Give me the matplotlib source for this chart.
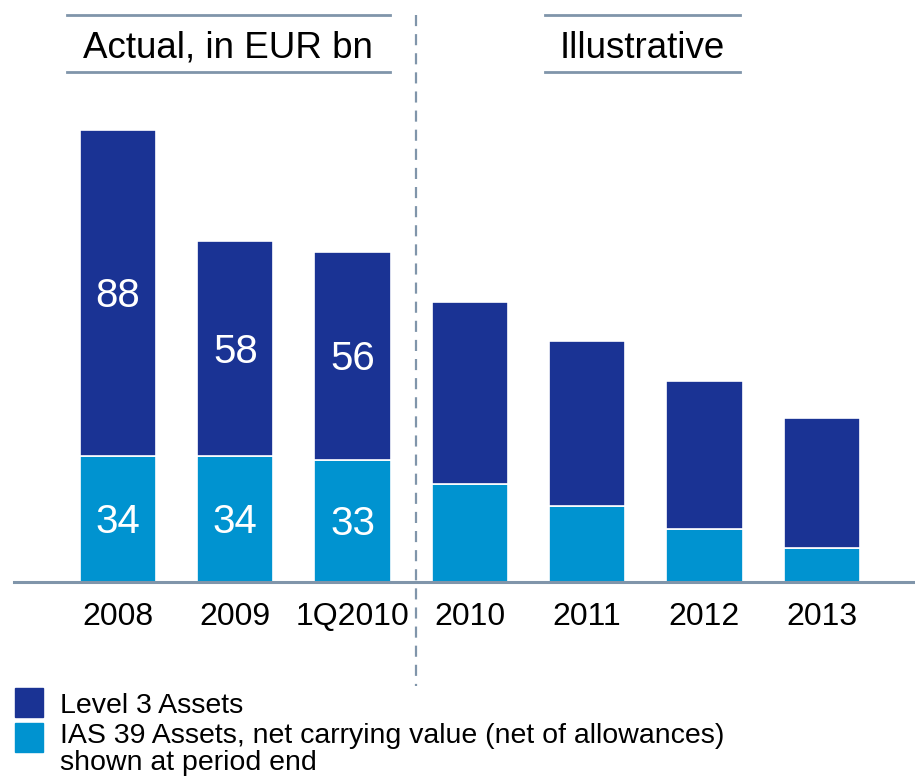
import matplotlib
matplotlib.use("Agg")
import matplotlib.pyplot as plt
from matplotlib.patches import Rectangle
from matplotlib.lines import Line2D
import numpy as np

plt.rcParams['font.family'] = ['Liberation Sans', 'DejaVu Sans']

categories = ["2008", "2009", "1Q2010", "2010", "2011", "2012", "2013"]
ias39 = [34, 34, 33, 26.5, 20.5, 14.3, 9.2]
level3 = [88, 58, 56, 49, 44.5, 40, 35]
labeled = [True, True, True, False, False, False, False]
legend_labels = ["Level 3 Assets",
                 "IAS 39 Assets, net carrying value (net of allowances)\nshown at period end"]
header_left = "Actual, in EUR bn"
header_right = "Illustrative"

DARK = "#1A3394"
LIGHT = "#0093D0"
GREY = "#8095AA"

W, H = 915, 783
fig = plt.figure(figsize=(W / 100, H / 100), dpi=100)
ax = fig.add_axes([0, 0, 1, 1])

# pixel mapping: first bar center at 118px, spacing 117.3px; baseline at y=582px, 3.705 px/unit
sp = 117.3
x0 = 118
ax.set_xlim(-x0 / sp, (W - x0) / sp)
ppu = 3.705
base = 582
ax.set_ylim(-(H - base) / ppu, base / ppu)
ax.axis("off")

x = np.arange(len(categories))
ax.bar(x, ias39, width=0.65, color=LIGHT, edgecolor="white", linewidth=1.2, zorder=2)
ax.bar(x, level3, width=0.65, bottom=ias39, color=DARK, edgecolor="white", linewidth=1.2, zorder=2)

VFS = 29
voff = -0.716 * VFS / 2  # points: put digit centre on segment centre
for i, (a, b, lab) in enumerate(zip(ias39, level3, labeled)):
    if lab:
        ax.annotate(f"{a:g}", (i, a / 2), xytext=(0, voff), textcoords="offset points",
                    color="white", fontsize=VFS, ha="center", va="baseline", zorder=3)
        ax.annotate(f"{b:g}", (i, a + b / 2), xytext=(0, voff), textcoords="offset points",
                    color="white", fontsize=VFS, ha="center", va="baseline", zorder=3)

for i, c in enumerate(categories):
    ax.annotate(c, (i, 0), xytext=(0, -43 * 0.72), textcoords="offset points",
                ha="center", va="baseline", fontsize=23, color="black")

# pixel-based decorations
def fx(px):
    return px / W

def fy(py):
    return 1 - py / H

tf = fig.transFigure
# baseline axis
fig.add_artist(Line2D([fx(14), fx(915)], [fy(582), fy(582)], color=GREY, lw=2.2, transform=tf, zorder=4))
# dashed divider
fig.add_artist(Line2D([fx(416), fx(416)], [fy(15), fy(686)], color=GREY, lw=1.6,
                      linestyle=(0, (5.0, 3.6)), transform=tf, zorder=1))
# header lines
for (l, r) in [(67, 390), (545, 740)]:
    for yy in (15, 72):
        fig.add_artist(Line2D([fx(l), fx(r)], [fy(yy), fy(yy)], color=GREY, lw=2.0, transform=tf))
fig.text(fx(228), fy(58), header_left, ha="center", va="baseline", fontsize=26.5, color="black")
fig.text(fx(642), fy(58), header_right, ha="center", va="baseline", fontsize=26.5, color="black")

# legend
fig.add_artist(Rectangle((fx(15), fy(717)), 28 / W, 29 / H, color=DARK, transform=tf))
fig.add_artist(Rectangle((fx(15), fy(752)), 28 / W, 29 / H, color=LIGHT, transform=tf))
LFS = 20.5
fig.text(fx(60), fy(713), legend_labels[0], ha="left", va="baseline", fontsize=LFS)
fig.text(fx(60), fy(743), legend_labels[1].split("\n")[0], ha="left", va="baseline", fontsize=LFS)
fig.text(fx(60), fy(770), legend_labels[1].split("\n")[1], ha="left", va="baseline", fontsize=LFS)

fig.savefig("out.png", dpi=100)
